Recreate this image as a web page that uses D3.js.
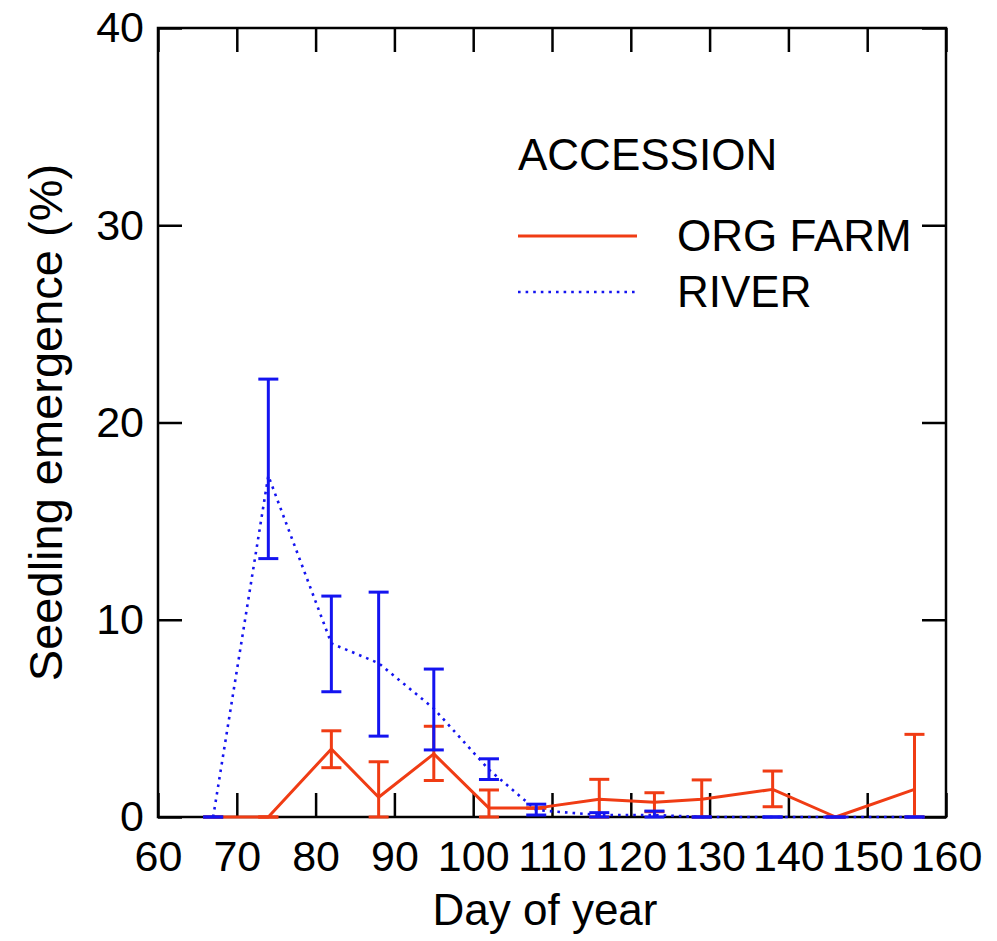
<!DOCTYPE html>
<html>
<head>
<meta charset="utf-8">
<script src="https://cdn.jsdelivr.net/npm/d3@7/dist/d3.min.js"></script>
<style>
  html, body { margin: 0; padding: 0; background: #fff; }
  svg { display: block; font-family: "Liberation Sans", Arial, sans-serif; }
</style>
</head>
<body>
<svg id="chart" width="997" height="941"></svg>
<script>
// ---- data ----
const days = [67, 74, 82, 88, 95, 102, 108, 116, 123, 129, 138, 146, 156];

const orgFarm      = [0, 0, 3.45, 1.0, 3.2, 0.45, 0.45, 0.9, 0.75, 0.9, 1.4, 0, 1.4];
const orgFarmLow   = [0, 0, 2.5, 0, 1.85, 0, 0.45, 0, 0.27, 0, 0.52, 0, 0];
const orgFarmHigh  = [0, 0, 4.37, 2.8, 4.6, 1.37, 0.45, 1.91, 1.23, 1.88, 2.33, 0, 4.19];

const river        = [0, 17.3, 8.8, 7.8, 5.5, 2.4, 0.35, 0.1, 0.1, 0, 0, 0, 0];
const riverLow     = [0, 13.1, 6.35, 4.1, 3.4, 1.9, 0.1, 0, 0, 0, 0, 0, 0];
const riverHigh    = [0, 22.2, 11.2, 11.4, 7.5, 2.95, 0.65, 0.22, 0.3, 0, 0, 0, 0];

const xTicks = [60, 70, 80, 90, 100, 110, 120, 130, 140, 150, 160];
const yTicks = [0, 10, 20, 30, 40];
const legendTitle = "ACCESSION";
const seriesNames = ["ORG FARM", "RIVER"];
const xTitle = "Day of year";
const yTitle = "Seedling emergence (%)";

// ---- layout ----
const L = 158, R = 946, T = 28, B = 817;
const RED = "#F03C14", BLUE = "#1414F0";

const svg = d3.select("#chart");
const x = d3.scaleLinear().domain([60, 160]).range([L, R]);
const y = d3.scaleLinear().domain([0, 40]).range([B, T]);

// axes (inward ticks)
const gx = svg.append("g").attr("transform", `translate(0,${B})`)
  .call(d3.axisBottom(x).tickValues(xTicks).tickSizeInner(-24).tickSizeOuter(0).tickPadding(23).tickFormat(d3.format("d")));
const gy = svg.append("g").attr("transform", `translate(${L},0)`)
  .call(d3.axisLeft(y).tickValues(yTicks).tickSizeInner(-24).tickSizeOuter(0).tickPadding(14).tickFormat(d3.format("d")));
const gt = svg.append("g").attr("transform", `translate(0,${T})`)
  .call(d3.axisTop(x).tickValues(xTicks).tickSizeInner(-24).tickSizeOuter(0).tickFormat(""));
const gr = svg.append("g").attr("transform", `translate(${R},0)`)
  .call(d3.axisRight(y).tickValues(yTicks).tickSizeInner(-24).tickSizeOuter(0).tickFormat(""));

[gx, gy, gt, gr].forEach(g => {
  g.select(".domain").remove();
  g.selectAll(".tick line").attr("stroke", "#000").attr("stroke-width", 2.5);
  g.selectAll(".tick text").attr("fill", "#000").attr("font-size", 43)
    .attr("font-family", '"Liberation Sans", Arial, sans-serif');
});

// frame
svg.append("rect").attr("x", L).attr("y", T).attr("width", R - L).attr("height", B - T)
  .attr("fill", "none").attr("stroke", "#000").attr("stroke-width", 2.5);

// titles
svg.append("text").attr("x", 545).attr("y", 925).attr("text-anchor", "middle")
  .attr("font-size", 44).attr("fill", "#000").text(xTitle);
svg.append("text").attr("transform", `translate(62,${(T + B) / 2}) rotate(-90)`)
  .attr("text-anchor", "middle").attr("font-size", 47).attr("fill", "#000").text(yTitle);

// series
function drawSeries(vals, lo, hi, color, dash) {
  const pts = days.map((d, i) => ({ d, v: vals[i], lo: lo[i], hi: hi[i] }));
  const line = d3.line().x(p => x(p.d)).y(p => y(p.v));
  svg.append("path").datum(pts).attr("d", line).attr("fill", "none")
    .attr("stroke", color).attr("stroke-width", dash ? 2.6 : 3)
    .attr("stroke-dasharray", dash || null).attr("stroke-linejoin", "round");
  const eb = svg.append("g").attr("stroke", color).attr("stroke-width", 3);
  pts.forEach(p => {
    eb.append("line").attr("x1", x(p.d)).attr("x2", x(p.d)).attr("y1", y(p.lo)).attr("y2", y(p.hi));
    eb.append("line").attr("x1", x(p.d) - 10).attr("x2", x(p.d) + 10).attr("y1", y(p.lo)).attr("y2", y(p.lo));
    eb.append("line").attr("x1", x(p.d) - 10).attr("x2", x(p.d) + 10).attr("y1", y(p.hi)).attr("y2", y(p.hi));
  });
}
drawSeries(orgFarm, orgFarmLow, orgFarmHigh, RED, null);
drawSeries(river, riverLow, riverHigh, BLUE, "2.6,5");

// legend
svg.append("text").attr("x", 518).attr("y", 170).attr("font-size", 44).attr("fill", "#000").text(legendTitle);
svg.append("line").attr("x1", 518).attr("x2", 637).attr("y1", 236).attr("y2", 236)
  .attr("stroke", RED).attr("stroke-width", 3);
svg.append("line").attr("x1", 518).attr("x2", 635).attr("y1", 292).attr("y2", 292)
  .attr("stroke", BLUE).attr("stroke-width", 2.6).attr("stroke-dasharray", "2.6,5");
svg.append("text").attr("x", 677).attr("y", 251).attr("font-size", 44).attr("fill", "#000").text(seriesNames[0]);
svg.append("text").attr("x", 677).attr("y", 307).attr("font-size", 44).attr("fill", "#000").text(seriesNames[1]);
</script>
</body>
</html>
